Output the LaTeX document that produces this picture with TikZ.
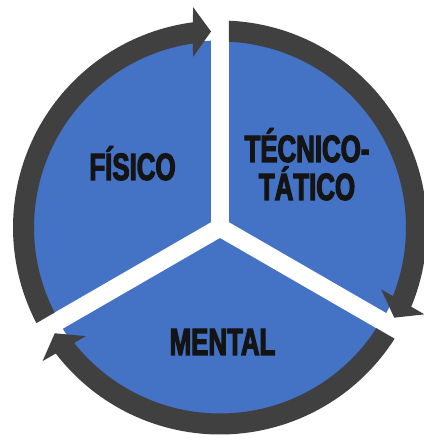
\documentclass[tikz,border=0pt]{standalone}
\usepackage{fontspec}
\setmainfont{Liberation Sans}
\newfontfamily\labelfont[FakeStretch=0.68,FakeBold=3]{Liberation Sans Bold}
\definecolor{wheelblue}{HTML}{4472C4}
\definecolor{ringgray}{HTML}{404040}
\definecolor{labelink}{HTML}{141414}
\begin{document}
\begin{tikzpicture}[x=1pt,y=1pt,
  segtext/.style={font=\labelfont\fontsize{38}{38}\selectfont, text=labelink, inner sep=0pt, anchor=base},
  gapband/.style={white, line width=18pt},
  ringarc/.style={fill=ringgray, draw=none}]
\useasboundingbox (0,0) rectangle (423,435);
\coordinate (C) at (220,207.5);
% blue disc
\fill[wheelblue] (C) circle[radius=187pt];
% white gaps
\foreach \a in {90,210,330}{
  \draw[gapband] (C) -- ++(\a:230);
}
\fill[white] (C) circle[radius=9pt];
% ring arcs with arrowheads
\foreach \r in {0,120,240}{
  \begin{scope}[shift={(C)}, rotate=\r]
    \fill[ringarc] (87.51:207) arc[start angle=87.51, end angle=-22.5, radius=207pt]
      -- (-23.02:222.1) -- (-27.37:196.2) -- (-21.0:172.6) -- (-21.65:186)
      arc[start angle=-21.65, end angle=87.23, radius=186pt] -- cycle;
  \end{scope}
}
% labels
\node[segtext] (fis) at (132.5,255) {FÍSICO};
\node[segtext] (tec) at (307,273) {TÉCNICO-};
\node[segtext] (tat) at (307,235) {TÁTICO};
\node[segtext] (men) at (222.5,80) {MENTAL};
\end{tikzpicture}
\end{document}
